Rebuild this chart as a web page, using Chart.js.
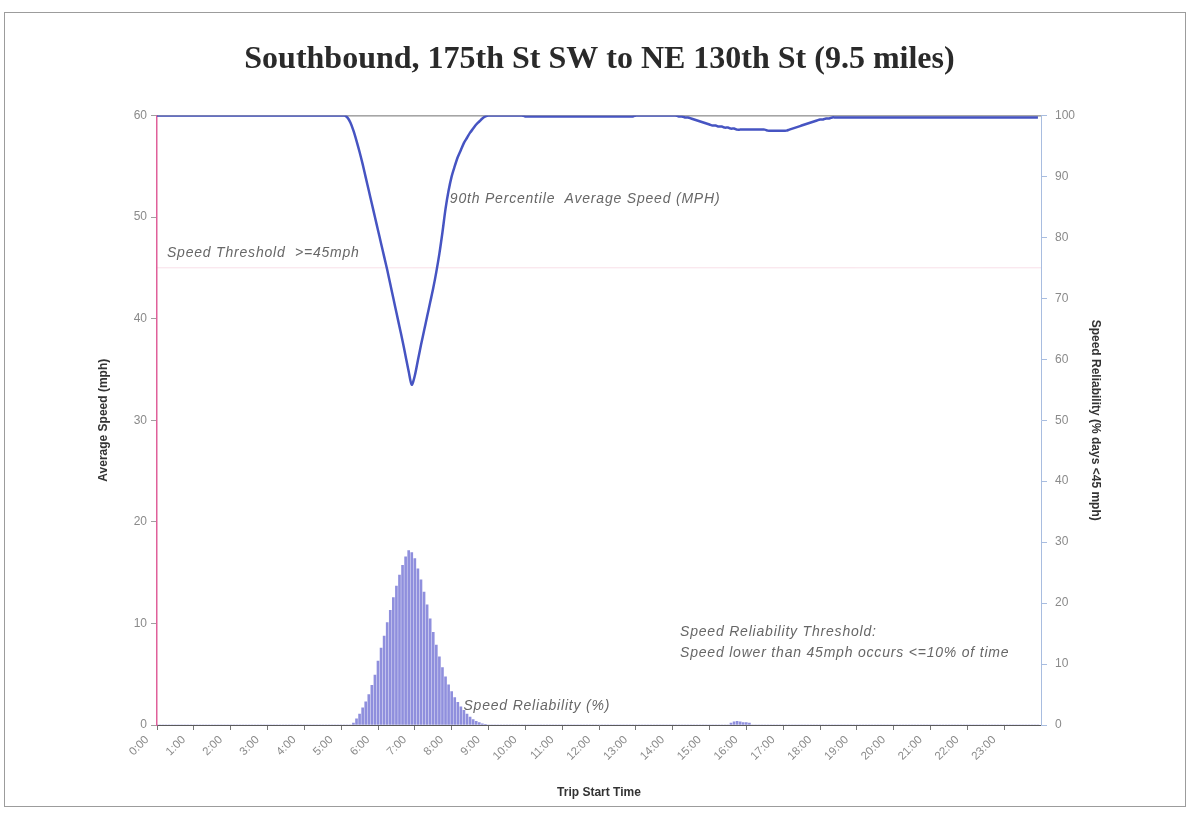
<!DOCTYPE html>
<html>
<head>
<meta charset="utf-8">
<title>Southbound speed and reliability</title>
<script src="https://cdn.jsdelivr.net/npm/chart.js@4.4.1/dist/chart.umd.min.js"></script>
<style>
    html, body { margin: 0; padding: 0; background: #fff; }
    #wrap { position: relative; width: 1191px; height: 816px; overflow: hidden; }
    #frame { position: absolute; left: 4px; top: 12px; width: 1182px; height: 795px; border: 1px solid #9c9c9c; box-sizing: border-box; }
    #chart { position: absolute; left: 0; top: 0; }
</style>
</head>
<body>
<div id="wrap">
    <div id="frame"></div>
    <canvas id="chart" width="1191" height="816"></canvas>
</div>
<script>
// Hour tick labels on the x axis
const hourLabels = ['0:00', '1:00', '2:00', '3:00', '4:00', '5:00', '6:00', '7:00',
                    '8:00', '9:00', '10:00', '11:00', '12:00', '13:00', '14:00', '15:00',
                    '16:00', '17:00', '18:00', '19:00', '20:00', '21:00', '22:00', '23:00'];

// Samples are every 5 minutes, 12 per hour (one row per hour)
const stepMinutes = 5;

// 90th percentile average speed (mph)
const speed90 = [
    60, 60, 60, 60, 60, 60, 60, 60, 60, 60, 60, 60,
    60, 60, 60, 60, 60, 60, 60, 60, 60, 60, 60, 60,
    60, 60, 60, 60, 60, 60, 60, 60, 60, 60, 60, 60,
    60, 60, 60, 60, 60, 60, 60, 60, 60, 60, 60, 60,
    60, 60, 60, 60, 60, 60, 60, 60, 60, 60, 60, 60,
    60, 60, 59.8, 59.3, 58.5, 57.5, 56.4, 55.2, 53.9, 52.6, 51.3, 50.0,
    48.7, 47.4, 46.1, 44.8, 43.4, 42.0, 40.6, 39.2, 37.8, 36.3, 34.8, 33.5,
    34.4, 35.9, 37.4, 38.8, 40.2, 41.6, 43.0, 44.6, 46.4, 48.5, 50.8, 52.6,
    54.0, 55.0, 55.9, 56.6, 57.3, 57.8, 58.3, 58.7, 59.1, 59.4, 59.7, 59.9,
    60, 60, 60, 60, 60, 60, 60, 60, 60, 60, 60, 60,
    59.9, 59.9, 59.9, 59.9, 59.9, 59.9, 59.9, 59.9, 59.9, 59.9, 59.9, 59.9,
    59.9, 59.9, 59.9, 59.9, 59.9, 59.9, 59.9, 59.9, 59.9, 59.9, 59.9, 59.9,
    59.9, 59.9, 59.9, 59.9, 59.9, 59.9, 59.9, 59.9, 59.9, 59.9, 59.9, 59.9,
    60, 60, 60, 60, 60, 60, 60, 60, 60, 60, 60, 60,
    60, 60, 59.9, 59.9, 59.8, 59.8, 59.7, 59.6, 59.5, 59.4, 59.3, 59.2,
    59.1, 59.0, 59.0, 58.9, 58.9, 58.8, 58.8, 58.7, 58.7, 58.6, 58.6, 58.6,
    58.6, 58.6, 58.6, 58.6, 58.6, 58.6, 58.6, 58.5, 58.5, 58.5, 58.5, 58.5,
    58.5, 58.5, 58.6, 58.7, 58.8, 58.9, 59.0, 59.1, 59.2, 59.3, 59.4, 59.5,
    59.6, 59.6, 59.7, 59.7, 59.8, 59.8, 59.8, 59.8, 59.8, 59.8, 59.8, 59.8,
    59.8, 59.8, 59.8, 59.8, 59.8, 59.8, 59.8, 59.8, 59.8, 59.8, 59.8, 59.8,
    59.8, 59.8, 59.8, 59.8, 59.8, 59.8, 59.8, 59.8, 59.8, 59.8, 59.8, 59.8,
    59.8, 59.8, 59.8, 59.8, 59.8, 59.8, 59.8, 59.8, 59.8, 59.8, 59.8, 59.8,
    59.8, 59.8, 59.8, 59.8, 59.8, 59.8, 59.8, 59.8, 59.8, 59.8, 59.8, 59.8,
    59.8, 59.8, 59.8, 59.8, 59.8, 59.8, 59.8, 59.8, 59.8, 59.8, 59.8, 59.8
];

// Speed reliability (% of days below 45 mph)
const reliability = [
    0, 0, 0, 0, 0, 0, 0, 0, 0, 0, 0, 0,
    0, 0, 0, 0, 0, 0, 0, 0, 0, 0, 0, 0,
    0, 0, 0, 0, 0, 0, 0, 0, 0, 0, 0, 0,
    0, 0, 0, 0, 0, 0, 0, 0, 0, 0, 0, 0,
    0, 0, 0, 0, 0, 0, 0, 0, 0, 0, 0, 0,
    0, 0, 0, 0, 0.3, 1.0, 1.8, 2.8, 3.8, 5.0, 6.5, 8.2,
    10.5, 12.6, 14.6, 16.8, 18.8, 20.9, 22.8, 24.6, 26.2, 27.6, 28.6, 28.3,
    27.3, 25.6, 23.8, 21.8, 19.7, 17.4, 15.2, 13.1, 11.2, 9.4, 7.9, 6.6,
    5.5, 4.5, 3.7, 3.0, 2.4, 1.8, 1.3, 0.9, 0.6, 0.4, 0.2, 0.1,
    0, 0, 0, 0, 0, 0, 0, 0, 0, 0, 0, 0,
    0, 0, 0, 0, 0, 0, 0, 0, 0, 0, 0, 0,
    0, 0, 0, 0, 0, 0, 0, 0, 0, 0, 0, 0,
    0, 0, 0, 0, 0, 0, 0, 0, 0, 0, 0, 0,
    0, 0, 0, 0, 0, 0, 0, 0, 0, 0, 0, 0,
    0, 0, 0, 0, 0, 0, 0, 0, 0, 0, 0, 0,
    0, 0, 0, 0, 0, 0, 0, 0.3, 0.5, 0.6, 0.5, 0.4,
    0.4, 0.3, 0, 0, 0, 0, 0, 0, 0, 0, 0, 0,
    0, 0, 0, 0, 0, 0, 0, 0, 0, 0, 0, 0,
    0, 0, 0, 0, 0, 0, 0, 0, 0, 0, 0, 0,
    0, 0, 0, 0, 0, 0, 0, 0, 0, 0, 0, 0,
    0, 0, 0, 0, 0, 0, 0, 0, 0, 0, 0, 0,
    0, 0, 0, 0, 0, 0, 0, 0, 0, 0, 0, 0,
    0, 0, 0, 0, 0, 0, 0, 0, 0, 0, 0, 0,
    0, 0, 0, 0, 0, 0, 0, 0, 0, 0, 0, 0
];

const speedThreshold = 45;

const toHour = i => i * stepMinutes / 60;

// Text notes placed on the plot (x in hours, y in axis units)
const notesPlugin = {
    id: 'notes',
    beforeDatasetsDraw(chart) {
        const { ctx, chartArea: a, scales } = chart;
        const y45 = scales.ySpeed.getPixelForValue(speedThreshold);
        ctx.save();
        // faint speed threshold line
        ctx.strokeStyle = 'rgba(225, 110, 150, 0.22)';
        ctx.lineWidth = 1;
        ctx.beginPath();
        ctx.moveTo(a.left, y45);
        ctx.lineTo(a.right, y45);
        ctx.stroke();
        // plot top border
        ctx.strokeStyle = '#6f6f6f';
        ctx.beginPath();
        ctx.moveTo(a.left, a.top + 0.5);
        ctx.lineTo(a.right, a.top + 0.5);
        ctx.stroke();
        ctx.restore();
    },
    afterDatasetsDraw(chart) {
        const { ctx, scales } = chart;
        const x = scales.x, ys = scales.ySpeed, yr = scales.yRel;
        const notes = [
            { text: 'Speed Threshold  >=45mph', h: 0.27, v: 46.1, axis: ys },
            { text: '90th Percentile  Average Speed (MPH)', h: 7.95, v: 51.4, axis: ys },
            { text: 'Speed Reliability (%)', h: 8.32, v: 2.5, axis: yr },
            { text: 'Speed Reliability Threshold:', h: 14.2, v: 14.6, axis: yr },
            { text: 'Speed lower than 45mph occurs <=10% of time', h: 14.2, v: 11.2, axis: yr }
        ];
        ctx.save();
        ctx.font = 'italic 14px "Liberation Sans", Arial, sans-serif';
        ctx.letterSpacing = '0.8px';
        ctx.fillStyle = '#676767';
        ctx.textAlign = 'left';
        ctx.textBaseline = 'alphabetic';
        notes.forEach(n => {
            ctx.fillText(n.text, x.getPixelForValue(n.h), n.axis.getPixelForValue(n.v));
        });
        ctx.restore();
    }
};

const ctx = document.getElementById('chart').getContext('2d');

new Chart(ctx, {
    type: 'bar',
    data: {
        datasets: [
            {
                type: 'line',
                label: '90th Percentile Average Speed (MPH)',
                data: speed90.map((v, i) => ({ x: toHour(i), y: v })),
                yAxisID: 'ySpeed',
                borderColor: '#4654c2',
                borderWidth: 2.5,
                pointRadius: 0,
                tension: 0.3,
                order: 0
            },
            {
                type: 'bar',
                label: 'Speed Reliability (%)',
                data: reliability.map((v, i) => ({ x: toHour(i), y: v })),
                yAxisID: 'yRel',
                backgroundColor: 'rgba(105, 105, 210, 0.75)',
                barThickness: 2,
                order: 1
            }
        ]
    },
    options: {
        responsive: false,
        animation: false,
        layout: {
            padding: { left: 88, right: 80, top: 0, bottom: 13 }
        },
        plugins: {
            legend: { display: false },
            tooltip: { enabled: false },
            title: {
                display: true,
                text: 'Southbound, 175th St SW to NE 130th St (9.5 miles)',
                color: '#2a2a2a',
                font: { family: '"Liberation Serif", "Times New Roman", serif', size: 32, weight: 'bold' },
                padding: { top: 41, bottom: 36 }
            }
        },
        scales: {
            x: {
                type: 'linear',
                min: 0,
                max: 24,
                offset: false,
                ticks: {
                    stepSize: 1,
                    autoSkip: false,
                    maxRotation: 45,
                    minRotation: 45,
                    labelOffset: -10,
                    color: '#8a8a8a',
                    font: { family: '"Liberation Sans", Arial, sans-serif', size: 11.5 },
                    callback: v => (v < 24 ? hourLabels[v] : null)
                },
                grid: { offset: false, drawOnChartArea: false, tickLength: 5, color: '#777' },
                border: { color: '#5a5a5a' },
                title: {
                    display: true,
                    text: 'Trip Start Time',
                    color: '#333',
                    font: { family: '"Liberation Sans", Arial, sans-serif', size: 12, weight: 'bold' },
                    padding: { top: 2, bottom: 3 }
                },
                afterFit: s => { s.height = 78; }
            },
            ySpeed: {
                position: 'left',
                min: 0,
                max: 60,
                ticks: {
                    stepSize: 10,
                    padding: 4,
                    color: '#8a8a8a',
                    font: { family: '"Liberation Sans", Arial, sans-serif', size: 12 }
                },
                grid: { drawOnChartArea: false, tickLength: 6, color: '#a0a0a0' },
                border: { color: '#e0609a', width: 1.5 },
                title: {
                    display: true,
                    text: 'Average Speed (mph)',
                    color: '#333',
                    font: { family: '"Liberation Sans", Arial, sans-serif', size: 12, weight: 'bold' },
                    padding: 8
                },
                afterFit: s => { s.width = 69; }
            },
            yRel: {
                position: 'right',
                min: 0,
                max: 100,
                ticks: {
                    stepSize: 10,
                    padding: 8,
                    color: '#8a8a8a',
                    font: { family: '"Liberation Sans", Arial, sans-serif', size: 12 }
                },
                grid: { drawOnChartArea: false, tickLength: 6, color: '#a8bde0' },
                border: { color: '#a8bde0' },
                title: {
                    display: true,
                    text: 'Speed Reliability (% days <45 mph)',
                    color: '#333',
                    font: { family: '"Liberation Sans", Arial, sans-serif', size: 12, weight: 'bold' },
                    padding: 8
                },
                afterFit: s => { s.width = 70; }
            }
        }
    },
    plugins: [notesPlugin]
});
</script>
</body>
</html>
